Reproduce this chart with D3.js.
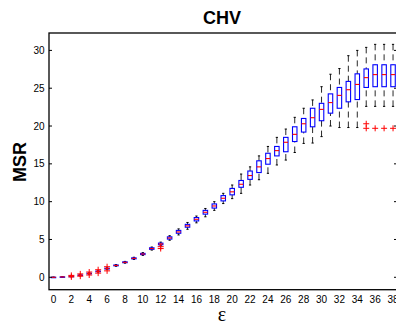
<!DOCTYPE html>
<html>
<head>
<meta charset="utf-8">
<script src="https://cdn.jsdelivr.net/npm/d3@7"></script>
<style>
body { margin: 0; background: #fff; }
svg { display: block; }
</style>
</head>
<body>
<div id="chart"></div>
<script>
// box statistics per epsilon
var eps    = [0,1,2,3,4,5,6,7,8,9,10,11,12,13,14,15,16,17,18,19,20,21,22,23,24,25,26,27,28,29,30,31,32,33,34,35,36,37,38];
var median = [0,0.05,0.12,0.27,0.5,0.78,1.15,1.57,1.98,2.5,3.08,3.8,4.4,5.2,6.0,6.8,7.67,8.6,9.43,10.45,11.3,12.3,13.45,14.6,15.7,16.75,17.85,18.9,20.3,21.1,22.2,23.1,24.05,24.8,25.5,26.4,26.8,26.8,26.8];
var q1     = [0,0.04,0.1,0.24,0.46,0.74,1.1,1.52,1.93,2.44,3.0,3.7,4.3,5.05,5.82,6.62,7.45,8.35,9.15,10.1,10.9,11.9,12.95,13.85,14.95,16.05,16.6,17.95,19.2,19.9,20.7,21.7,22.35,23.2,23.5,25.1,25.2,25.2,25.2];
var q3     = [0.01,0.06,0.14,0.3,0.54,0.82,1.2,1.62,2.04,2.57,3.16,3.9,4.52,5.35,6.2,7.0,7.9,8.85,9.7,10.8,11.75,12.8,14.05,15.4,16.4,17.3,18.5,19.9,21.0,22.35,23.0,24.25,25.1,25.9,26.9,27.55,28.1,28.1,28.1];
var whiskLo= [0,0.03,0.08,0.2,0.42,0.7,1.05,1.46,1.87,2.36,2.9,3.6,4.18,4.9,5.6,6.35,7.2,8.0,8.85,9.75,10.4,11.1,12.2,12.9,13.75,14.85,15.5,16.5,17.7,17.75,18.6,20.0,19.8,19.8,19.8,22.6,22.6,22.6,22.6];
var whiskHi= [0.02,0.07,0.16,0.33,0.58,0.86,1.25,1.68,2.1,2.65,3.26,4.0,4.65,5.5,6.4,7.25,8.1,9.1,10.0,11.1,12.2,13.65,14.6,16.05,17.3,18.5,19.6,21.15,22.35,23.45,25.2,26.85,27.6,29.3,30.0,30.4,30.8,30.8,30.8];
var outliers = [
  {e:2, v:0.05},{e:2, v:0.25},
  {e:3, v:0.15},{e:3, v:0.45},
  {e:4, v:0.3},{e:4, v:0.7},
  {e:5, v:0.55},{e:5, v:1.0},
  {e:6, v:0.85},{e:6, v:1.4},
  {e:12, v:4.05},{e:12, v:3.8},
  {e:35, v:20.3},{e:35, v:19.7},
  {e:36, v:19.7},{e:37, v:19.7},{e:38, v:19.7}
];
var xTicks = [0,2,4,6,8,10,12,14,16,18,20,22,24,26,28,30,32,34,36,38];
var yTicks = [0,5,10,15,20,25,30];

var w = 396;
var h = 327;
// note: "top" is taken by window.top, so prefix the margins
var mLeft = 49, mRight = 397.5, mTop = 33, mBottom = 289.7;

var svg = d3.select("div#chart")
.append("svg")
.attr("width", w)
.attr("height", h);

var x = d3.scaleLinear().domain([-0.5, 38.5]).range([mLeft, mRight]);
var y = d3.scaleLinear().domain([-1.64, 32.3]).range([mBottom, mTop]);

var boxW = x(0.25) - x(0);   // half box width
var capW = x(0.125) - x(0);

var stats = eps.map(function(e, i){
    return {e: e, med: median[i], q1: q1[i], q3: q3[i], lo: whiskLo[i], hi: whiskHi[i]};
});

var g = svg.append("g");

// whiskers (dashed, drawn from the whisker end so the dash lands on the cap)
g.selectAll("line.wup")
    .data(stats)
    .enter()
    .append("line")
    .attr("x1", function(d){ return x(d.e); })
    .attr("x2", function(d){ return x(d.e); })
    .attr("y1", function(d){ return y(d.hi); })
    .attr("y2", function(d){ return y(d.q3); })
    .attr("stroke", "#111")
    .attr("stroke-width", 0.9)
    .style("stroke-dasharray", "6,4");

g.selectAll("line.wlo")
    .data(stats)
    .enter()
    .append("line")
    .attr("x1", function(d){ return x(d.e); })
    .attr("x2", function(d){ return x(d.e); })
    .attr("y1", function(d){ return y(d.lo); })
    .attr("y2", function(d){ return y(d.q1); })
    .attr("stroke", "#111")
    .attr("stroke-width", 0.9)
    .style("stroke-dasharray", "6,4");

// caps
["hi", "lo"].forEach(function(k){
    g.selectAll("line.cap" + k)
        .data(stats)
        .enter()
        .append("line")
        .attr("x1", function(d){ return x(d.e) - capW; })
        .attr("x2", function(d){ return x(d.e) + capW; })
        .attr("y1", function(d){ return y(d[k]); })
        .attr("y2", function(d){ return y(d[k]); })
        .attr("stroke", "black");
});

// boxes
g.selectAll("rect")
    .data(stats)
    .enter()
    .append("rect")
    .attr("x", function(d){ return x(d.e) - boxW; })
    .attr("y", function(d){ return y(d.q3); })
    .attr("width", 2 * boxW)
    .attr("height", function(d){ return Math.max(0.5, y(d.q1) - y(d.q3)); })
    .attr("fill", "none")
    .attr("stroke", "#0000ff")
    .attr("stroke-width", 1.1);

// medians
g.selectAll("line.med")
    .data(stats)
    .enter()
    .append("line")
    .attr("x1", function(d){ return x(d.e) - boxW; })
    .attr("x2", function(d){ return x(d.e) + boxW; })
    .attr("y1", function(d){ return y(d.med); })
    .attr("y2", function(d){ return y(d.med); })
    .attr("stroke", "#ff0000")
    .attr("stroke-width", 1.1);

// outliers as red +
g.selectAll("path.out")
    .data(outliers)
    .enter()
    .append("path")
    .attr("d", function(d){
        var cx = x(d.e), cy = y(d.v), s = 3;
        return "M" + (cx - s) + "," + cy + "H" + (cx + s) + "M" + cx + "," + (cy - s) + "V" + (cy + s);
    })
    .attr("stroke", "#ff0000")
    .attr("fill", "none");

// frame
svg.append("rect")
    .attr("x", mLeft)
    .attr("y", mTop)
    .attr("width", mRight - mLeft)
    .attr("height", mBottom - mTop)
    .attr("fill", "none")
    .attr("stroke", "black")
    .attr("stroke-width", 1.3);

// y ticks, inward on both sides
svg.selectAll("line.ytl")
    .data(yTicks)
    .enter()
    .append("line")
    .attr("x1", mLeft).attr("x2", mLeft + 3)
    .attr("y1", function(d){ return y(d); })
    .attr("y2", function(d){ return y(d); })
    .attr("stroke", "black");

svg.selectAll("line.ytr")
    .data(yTicks)
    .enter()
    .append("line")
    .attr("x1", mRight).attr("x2", mRight - 3.5)
    .attr("y1", function(d){ return y(d); })
    .attr("y2", function(d){ return y(d); })
    .attr("stroke", "black");

svg.selectAll("text.yl")
    .data(yTicks)
    .enter()
    .append("text")
    .attr("x", 44.5)
    .attr("y", function(d){ return y(d) + 3.5; })
    .attr("text-anchor", "end")
    .style("font-family", "Liberation Sans, Arial, sans-serif")
    .style("font-size", "10px")
    .text(function(d){ return d; });

svg.selectAll("text.xl")
    .data(xTicks)
    .enter()
    .append("text")
    .attr("x", function(d){ return x(d); })
    .attr("y", 303)
    .attr("text-anchor", "middle")
    .style("font-family", "Liberation Sans, Arial, sans-serif")
    .style("font-size", "10px")
    .text(function(d){ return d; });

// labels
svg.append("text")
    .attr("x", 222)
    .attr("y", 24)
    .attr("text-anchor", "middle")
    .style("font-family", "Liberation Sans, Arial, sans-serif")
    .style("font-weight", "bold")
    .style("font-size", "18px")
    .text("CHV");

svg.append("text")
    .attr("transform", "translate(25.5,162) rotate(-90)")
    .attr("text-anchor", "middle")
    .style("font-family", "Liberation Sans, Arial, sans-serif")
    .style("font-weight", "bold")
    .style("font-size", "18px")
    .text("MSR");

svg.append("text")
    .attr("x", 222)
    .attr("y", 321)
    .attr("text-anchor", "middle")
    .style("font-family", "Liberation Serif, Times New Roman, serif")
    .style("font-size", "20px")
    .text("ε");
</script>
</body>
</html>
